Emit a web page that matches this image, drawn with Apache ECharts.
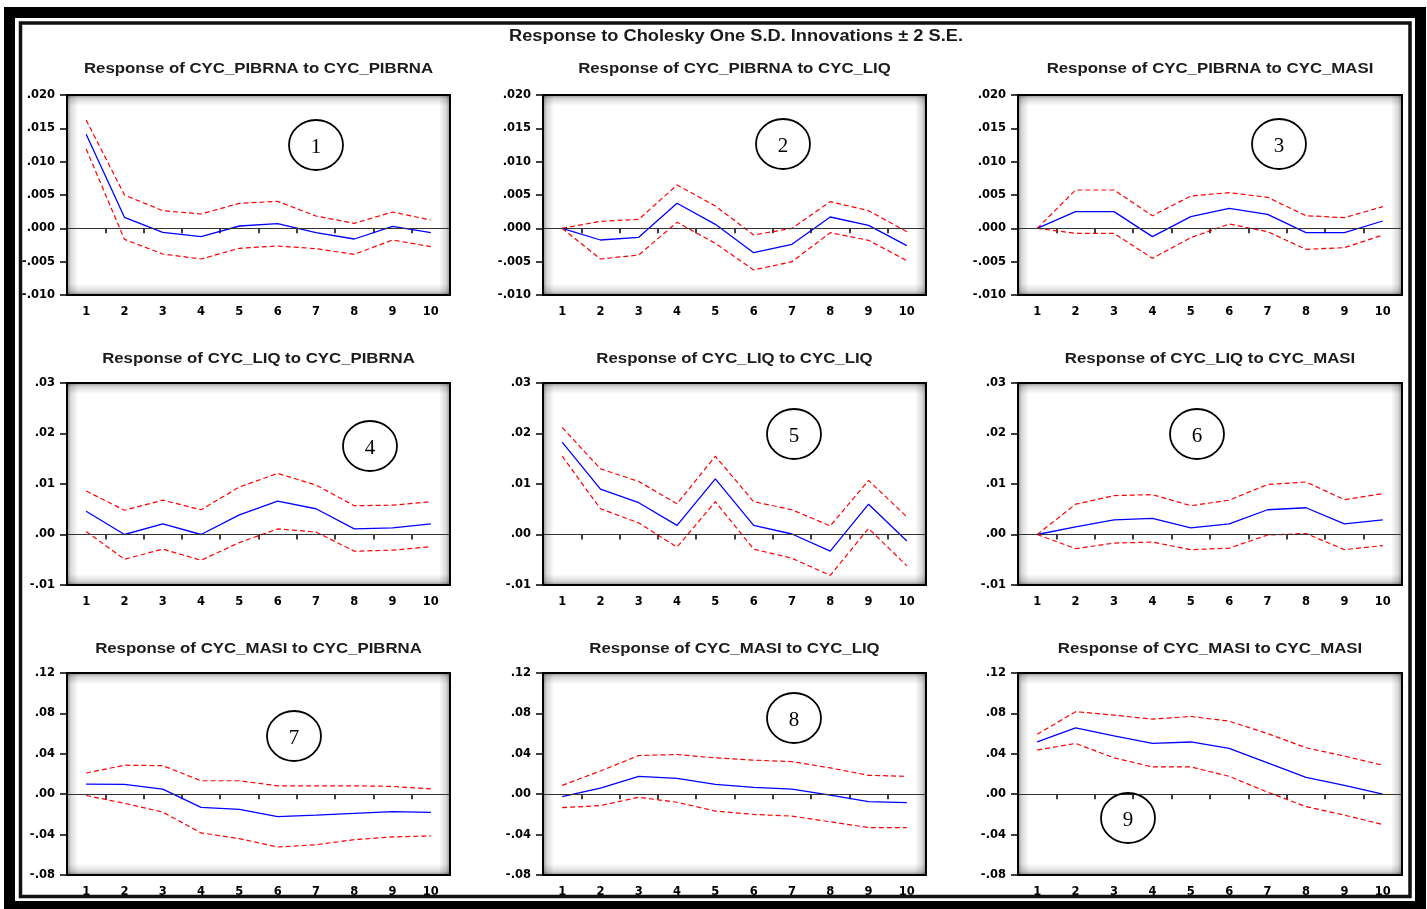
<!DOCTYPE html>
<html>
<head>
<meta charset="utf-8">
<script src="https://cdn.jsdelivr.net/npm/echarts@6/dist/echarts.min.js"></script>
<style>
html,body{margin:0;padding:0;background:#fff;}
#chart{width:1427px;height:909px;}
</style>
</head>
<body>
<div id="chart"></div>
<script>
// ---------------- DATA ----------------
const periods = ['1','2','3','4','5','6','7','8','9','10'];

const mainTitle = 'Response to Cholesky One S.D. Innovations \u00B1 2 S.E.';
const panelTitles = [
  'Response of CYC_PIBRNA to CYC_PIBRNA',
  'Response of CYC_PIBRNA to CYC_LIQ',
  'Response of CYC_PIBRNA to CYC_MASI',
  'Response of CYC_LIQ to CYC_PIBRNA',
  'Response of CYC_LIQ to CYC_LIQ',
  'Response of CYC_LIQ to CYC_MASI',
  'Response of CYC_MASI to CYC_PIBRNA',
  'Response of CYC_MASI to CYC_LIQ',
  'Response of CYC_MASI to CYC_MASI'
];
const circleLabels = ['1','2','3','4','5','6','7','8','9'];

// y-axis range per row: min, max, step, decimals
const rowYMin = [-0.010, -0.01, -0.08];
const rowYMax = [0.020, 0.03, 0.12];
const rowYStep = [0.005, 0.01, 0.04];
const rowYDecimals = [3, 2, 2];

// Panel 1
const resp1 = [0.0141, 0.00165, -0.0006, -0.00125, 0.00035, 0.0007, -0.00065, -0.0016, 0.0003, -0.00065];
const up1   = [0.01625, 0.0050, 0.00265, 0.00215, 0.00375, 0.00405, 0.00185, 0.00075, 0.00245, 0.00125];
const lo1   = [0.0119, -0.00165, -0.00385, -0.0046, -0.0030, -0.00265, -0.00305, -0.0039, -0.00175, -0.00275];
// Panel 2
const resp2 = [0, -0.00175, -0.00135, 0.00376, 0.0006, -0.00366, -0.0024, 0.0017, 0.00045, -0.0026];
const up2   = [0, 0.00105, 0.00135, 0.0065, 0.00335, -0.0010, 0.0000, 0.0040, 0.00265, -0.0005];
const lo2   = [0, -0.0046, -0.0040, 0.0009, -0.00225, -0.00625, -0.0050, -0.00065, -0.0018, -0.00485];
// Panel 3
const resp3 = [0, 0.0025, 0.0025, -0.00125, 0.00175, 0.0030, 0.0021, -0.00065, -0.00065, 0.0011];
const up3   = [0, 0.00575, 0.00575, 0.0019, 0.00485, 0.00535, 0.00465, 0.0019, 0.0016, 0.00325];
const lo3   = [0, -0.00075, -0.00075, -0.0045, -0.0014, 0.00065, -0.0005, -0.00315, -0.0029, -0.0010];
// Panel 4
const resp4 = [0.0046, 0.0000, 0.0021, 0.0000, 0.0039, 0.0066, 0.0051, 0.0011, 0.0013, 0.0021];
const up4   = [0.0086, 0.0048, 0.0068, 0.0049, 0.0094, 0.0121, 0.0098, 0.0057, 0.0058, 0.0065];
const lo4   = [0.0006, -0.0049, -0.0029, -0.0051, -0.0016, 0.0011, 0.0005, -0.0033, -0.0031, -0.0024];
// Panel 5
const resp5 = [0.0183, 0.0090, 0.0063, 0.0018, 0.0110, 0.0018, 0.0001, -0.0033, 0.0060, -0.0013];
const up5   = [0.0212, 0.0130, 0.0105, 0.0061, 0.0155, 0.0065, 0.0049, 0.0017, 0.0107, 0.0035];
const lo5   = [0.0155, 0.0051, 0.0023, -0.0025, 0.0065, -0.0029, -0.0047, -0.0081, 0.0012, -0.0062];
// Panel 6
const resp6 = [0, 0.0015, 0.0029, 0.0032, 0.0013, 0.0021, 0.0049, 0.0053, 0.0021, 0.0029];
const up6   = [0, 0.0060, 0.0077, 0.0079, 0.0057, 0.0068, 0.0099, 0.0104, 0.0069, 0.0081];
const lo6   = [0, -0.0028, -0.0017, -0.0015, -0.0030, -0.0027, -0.0001, 0.0002, -0.0030, -0.0022];
// Panel 7
const resp7 = [0.0100, 0.0097, 0.0050, -0.0130, -0.0150, -0.0223, -0.0207, -0.0190, -0.0173, -0.0180];
const up7   = [0.0210, 0.0287, 0.0283, 0.0133, 0.0133, 0.0083, 0.0083, 0.0083, 0.0077, 0.0053];
const lo7   = [-0.0013, -0.0090, -0.0177, -0.0383, -0.0440, -0.0523, -0.0500, -0.0450, -0.0423, -0.0413];
// Panel 8
const resp8 = [-0.0023, 0.0060, 0.0177, 0.0157, 0.0097, 0.0067, 0.0050, -0.0010, -0.0073, -0.0083];
const up8   = [0.0087, 0.0230, 0.0383, 0.0393, 0.0360, 0.0337, 0.0323, 0.0260, 0.0187, 0.0177];
const lo8   = [-0.0133, -0.0113, -0.0030, -0.0080, -0.0167, -0.0200, -0.0217, -0.0273, -0.0330, -0.0330];
// Panel 9
const resp9 = [0.0517, 0.0657, 0.0577, 0.0503, 0.0517, 0.0453, 0.0310, 0.0167, 0.0087, 0.0000];
const up9   = [0.0593, 0.0817, 0.0783, 0.0743, 0.0770, 0.0723, 0.0600, 0.0460, 0.0377, 0.0287];
const lo9   = [0.0437, 0.0503, 0.0360, 0.0270, 0.0270, 0.0177, 0.0020, -0.0123, -0.0207, -0.0300];

const responses = [resp1, resp2, resp3, resp4, resp5, resp6, resp7, resp8, resp9];
const uppers = [up1, up2, up3, up4, up5, up6, up7, up8, up9];
const lowers = [lo1, lo2, lo3, lo4, lo5, lo6, lo7, lo8, lo9];

// ---------------- LAYOUT ----------------
const colLeft = [67, 543, 1018];
const colWidth = [383, 383, 384];
const rowTop = [95, 383, 673];
const rowHeight = [200, 202, 202];
const titleY = [69, 359, 649];
const circlePos = [[316,145],[783,144],[1279,144],[370,446],[794,434],[1197,434],[294,736],[794,718],[1128,818]];

const chart = echarts.init(document.getElementById('chart'), null, {renderer: 'canvas'});

const grids = [], xAxes = [], yAxes = [], series = [], graphics = [];

function fmt(dec) {
  return function (v) {
    if (Math.abs(v) < 1e-12) return '.' + '0'.repeat(dec);
    const s = Math.abs(v).toFixed(dec).replace(/^0/, '');
    return (v < 0 ? '-' : '') + s;
  };
}

const labelFont = {fontFamily: 'DejaVu Sans', fontWeight: 'bold', fontSize: 11.5, color: '#000'};

for (let i = 0; i < 9; i++) {
  const r = Math.floor(i / 3), c = i % 3;
  const L = colLeft[c], T = rowTop[r], W = colWidth[c], H = rowHeight[r];
  grids.push({left: L, top: T, width: W, height: H, show: true, backgroundColor: '#fff', borderWidth: 0, containLabel: false});
  xAxes.push({
    type: 'category', gridIndex: i, data: periods, boundaryGap: true,
    axisLine: {show: false},
    axisTick: {show: true, inside: false, length: 5, lineStyle: {color: '#000', width: 1.5}},
    axisLabel: Object.assign({margin: 11}, labelFont),
    splitLine: {show: false}
  });
  yAxes.push({
    type: 'value', gridIndex: i, min: rowYMin[r], max: rowYMax[r], interval: rowYStep[r],
    axisLine: {show: false},
    axisTick: {show: true, inside: false, length: 7, lineStyle: {color: '#000', width: 1.5}},
    axisLabel: Object.assign({margin: 12, formatter: fmt(rowYDecimals[r])}, labelFont),
    splitLine: {show: false}
  });
  series.push({
    type: 'line', xAxisIndex: i, yAxisIndex: i, data: responses[i], symbol: 'none',
    lineStyle: {color: '#0000ff', width: 1.3}, animation: false, z: 4,
    markLine: {silent: true, symbol: ['none','none'], animation: false, label: {show: false},
      lineStyle: {color: '#333', width: 1, type: 'solid'}, data: [{yAxis: 0}]}
  });
  series.push({
    type: 'line', xAxisIndex: i, yAxisIndex: i, data: uppers[i], symbol: 'none',
    lineStyle: {color: '#ff0000', width: 1.2, type: [5, 3]}, animation: false, z: 4
  });
  series.push({
    type: 'line', xAxisIndex: i, yAxisIndex: i, data: lowers[i], symbol: 'none',
    lineStyle: {color: '#ff0000', width: 1.2, type: [5, 3]}, animation: false, z: 4
  });

  // inner shadow strips
  const s = 11, dark = 'rgba(0,0,0,0.42)', clear = 'rgba(0,0,0,0)';
  const strips = [
    {shape: {x: L, y: T, width: W, height: s}, g: [0,0,0,1]},
    {shape: {x: L, y: T + H - s, width: W, height: s}, g: [0,1,0,0]},
    {shape: {x: L, y: T, width: s, height: H}, g: [0,0,1,0]},
    {shape: {x: L + W - s, y: T, width: s, height: H}, g: [1,0,0,0]}
  ];
  strips.forEach(st => graphics.push({
    type: 'rect', shape: st.shape, silent: true, z: 1,
    style: {fill: new echarts.graphic.LinearGradient(st.g[0], st.g[1], st.g[2], st.g[3], [
      {offset: 0, color: dark}, {offset: 0.35, color: 'rgba(0,0,0,0.15)'}, {offset: 1, color: clear}])}
  }));
  // plot border
  graphics.push({type: 'rect', shape: {x: L, y: T, width: W, height: H}, silent: true, z: 6,
    style: {fill: null, stroke: '#000', lineWidth: 2}});
  // panel title
  graphics.push({type: 'text', x: L + W / 2, y: titleY[r], scaleX: 1.2, z: 6, silent: true,
    style: {x: 0, y: 0, text: panelTitles[i], align: 'center', verticalAlign: 'middle',
      font: 'bold 14px "Liberation Sans", Arial, sans-serif', fill: '#1c1c1c'}});
  // numbered circle
  const cp = circlePos[i];
  graphics.push({type: 'ellipse', shape: {cx: cp[0], cy: cp[1], rx: 27, ry: 25}, silent: true, z: 7,
    style: {fill: null, stroke: '#000', lineWidth: 1.8}});
  graphics.push({type: 'text', x: cp[0], y: cp[1] + 2, z: 7, silent: true,
    style: {x: 0, y: 0, text: circleLabels[i], align: 'center', verticalAlign: 'middle',
      font: '21px "Liberation Serif", "Times New Roman", serif', fill: '#000'}});
}

// main title
graphics.push({type: 'text', x: 736, y: 37, scaleX: 1.14, z: 8, silent: true,
  style: {x: 0, y: 0, text: mainTitle, align: 'center', verticalAlign: 'middle',
    font: 'bold 16px "Liberation Sans", Arial, sans-serif', fill: '#1a1a1a'}});
// outer frame
graphics.push({type: 'rect', shape: {x: 9.5, y: 12.5, width: 1411, height: 894}, silent: true, z: 10,
  style: {fill: null, stroke: '#000', lineWidth: 11}});
graphics.push({type: 'rect', shape: {x: 20.5, y: 23, width: 1389.5, height: 873.5}, silent: true, z: 10,
  style: {fill: null, stroke: '#111', lineWidth: 3.5}});

chart.setOption({
  backgroundColor: '#ffffff',
  animation: false,
  grid: grids,
  xAxis: xAxes,
  yAxis: yAxes,
  series: series,
  graphic: graphics
});
</script>
</body>
</html>
